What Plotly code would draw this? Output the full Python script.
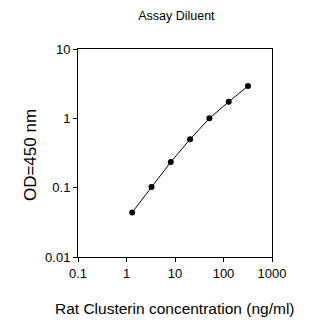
import plotly.graph_objects as go

conc = [1.31, 3.28, 8.19, 20.48, 51.2, 128, 320]
od = [0.044, 0.102, 0.234, 0.50, 1.0, 1.73, 2.92]
x_ticks = [0.1, 1, 10, 100, 1000]
y_ticks = [0.01, 0.1, 1, 10]

fig = go.Figure(go.Scatter(
    x=conc, y=od, mode="lines+markers",
    line=dict(color="black", width=1),
    marker=dict(color="black", size=6),
))

font = "Liberation Sans, Arial, sans-serif"
fig.update_layout(
    width=336, height=322,
    margin=dict(l=78, r=64, t=49, b=65),
    paper_bgcolor="white", plot_bgcolor="white",
    showlegend=False,
    font=dict(family=font, color="black", size=13),
    title=dict(text="Assay Diluent", x=0.525, xanchor="center", y=0.95, yanchor="middle",
               font=dict(size=12.5, family=font, color="black")),
    annotations=[
        dict(text="Rat Clusterin concentration (ng/ml)", xref="paper", yref="paper",
             x=0.5, y=0, xanchor="center", yanchor="middle", yshift=-51,
             showarrow=False, font=dict(size=15.5)),
        dict(text="OD=450 nm", xref="paper", yref="paper", textangle=-90,
             x=0, y=0.49, xanchor="center", yanchor="middle", xshift=-48,
             showarrow=False, font=dict(size=17)),
    ],
)
fig.update_xaxes(
    type="log", range=[-1, 3], tickvals=x_ticks, ticktext=[str(v) for v in x_ticks],
    showgrid=False, zeroline=False, showline=True, linecolor="black", linewidth=1,
    mirror=True, ticks="outside", ticklen=4, tickcolor="black",
    tickfont=dict(size=13), automargin=False,
)
fig.update_yaxes(
    type="log", range=[-2, 1], tickvals=y_ticks, ticktext=[str(v) for v in y_ticks],
    showgrid=False, zeroline=False, showline=True, linecolor="black", linewidth=1,
    mirror=True, ticks="outside", ticklen=4, tickcolor="black",
    tickfont=dict(size=13), automargin=False,
)
fig.write_html("out.html")
